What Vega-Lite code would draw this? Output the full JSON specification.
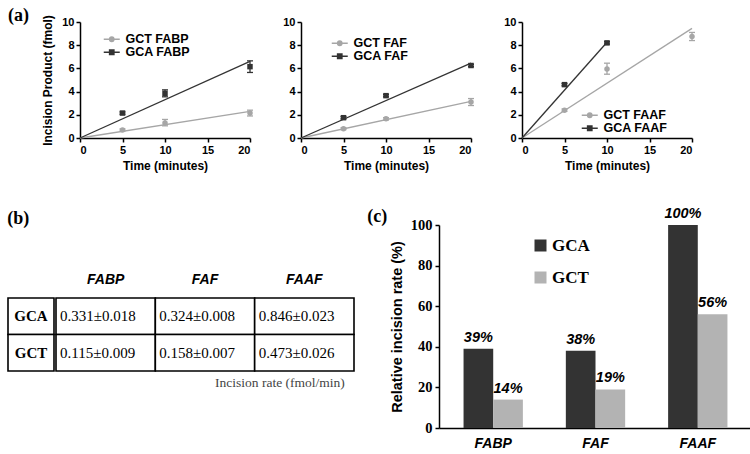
{
  "$schema": "https://vega.github.io/schema/vega-lite/v6.json",
  "padding": {"left": 7, "top": 7, "right": 0, "bottom": 0},
  "background": "#ffffff",
  "config": {
    "view": {"stroke": null},
    "font": "Liberation Sans",
    "axis": {"grid": false, "labelOverlap": false, "domainColor": "#000000", "domainWidth": 1.5, "tickColor": "#000000", "tickWidth": 1.5, "tickSize": 4, "labelFont": "Liberation Sans", "labelFontWeight": "bold", "labelColor": "#000000", "titleFont": "Liberation Sans", "titleFontWeight": "bold", "titleColor": "#000000"},
    "title": {"font": "Liberation Serif", "fontWeight": "bold", "fontSize": 18, "color": "#000000"}
  },
  "datasets": {
    "pts": [
      {"substrate": "FABP", "series": "GCT FABP", "seq": "GCT", "time": 5, "mean": 0.69, "lo": 0.6, "hi": 0.78},
      {"substrate": "FABP", "series": "GCT FABP", "seq": "GCT", "time": 10, "mean": 1.3, "lo": 1.05, "hi": 1.6},
      {"substrate": "FABP", "series": "GCT FABP", "seq": "GCT", "time": 20, "mean": 2.15, "lo": 1.9, "hi": 2.4},
      {"substrate": "FABP", "series": "GCA FABP", "seq": "GCA", "time": 5, "mean": 2.15, "lo": 2.05, "hi": 2.25},
      {"substrate": "FABP", "series": "GCA FABP", "seq": "GCA", "time": 10, "mean": 3.85, "lo": 3.55, "hi": 4.15},
      {"substrate": "FABP", "series": "GCA FABP", "seq": "GCA", "time": 20, "mean": 6.15, "lo": 5.65, "hi": 6.65},
      {"substrate": "FAF", "series": "GCT FAF", "seq": "GCT", "time": 5, "mean": 0.8, "lo": 0.72, "hi": 0.88},
      {"substrate": "FAF", "series": "GCT FAF", "seq": "GCT", "time": 10, "mean": 1.65, "lo": 1.55, "hi": 1.75},
      {"substrate": "FAF", "series": "GCT FAF", "seq": "GCT", "time": 20, "mean": 3.1, "lo": 2.8, "hi": 3.4},
      {"substrate": "FAF", "series": "GCA FAF", "seq": "GCA", "time": 5, "mean": 1.75, "lo": 1.65, "hi": 1.85},
      {"substrate": "FAF", "series": "GCA FAF", "seq": "GCA", "time": 10, "mean": 3.65, "lo": 3.55, "hi": 3.75},
      {"substrate": "FAF", "series": "GCA FAF", "seq": "GCA", "time": 20, "mean": 6.25, "lo": 6.15, "hi": 6.35},
      {"substrate": "FAAF", "series": "GCT FAAF", "seq": "GCT", "time": 5, "mean": 2.4, "lo": 2.3, "hi": 2.5},
      {"substrate": "FAAF", "series": "GCT FAAF", "seq": "GCT", "time": 10, "mean": 5.95, "lo": 5.5, "hi": 6.45},
      {"substrate": "FAAF", "series": "GCT FAAF", "seq": "GCT", "time": 20, "mean": 8.75, "lo": 8.4, "hi": 9.1},
      {"substrate": "FAAF", "series": "GCA FAAF", "seq": "GCA", "time": 5, "mean": 4.6, "lo": 4.5, "hi": 4.7},
      {"substrate": "FAAF", "series": "GCA FAAF", "seq": "GCA", "time": 10, "mean": 8.2, "lo": 8.1, "hi": 8.3}
    ],
    "fit": [
      {"substrate": "FABP", "series": "GCT FABP", "time": 0, "amount": 0},
      {"substrate": "FABP", "series": "GCT FABP", "time": 20, "amount": 2.3},
      {"substrate": "FABP", "series": "GCA FABP", "time": 0, "amount": 0},
      {"substrate": "FABP", "series": "GCA FABP", "time": 20, "amount": 6.6},
      {"substrate": "FAF", "series": "GCT FAF", "time": 0, "amount": 0},
      {"substrate": "FAF", "series": "GCT FAF", "time": 20, "amount": 3.15},
      {"substrate": "FAF", "series": "GCA FAF", "time": 0, "amount": 0},
      {"substrate": "FAF", "series": "GCA FAF", "time": 20, "amount": 6.45},
      {"substrate": "FAAF", "series": "GCT FAAF", "time": 0, "amount": 0},
      {"substrate": "FAAF", "series": "GCT FAAF", "time": 20, "amount": 9.45},
      {"substrate": "FAAF", "series": "GCA FAAF", "time": 0, "amount": 0},
      {"substrate": "FAAF", "series": "GCA FAAF", "time": 10, "amount": 8.25}
    ],
    "cells": [
      {"row": "GCA", "col": "FABP", "val": "0.331±0.018"},
      {"row": "GCA", "col": "FAF", "val": "0.324±0.008"},
      {"row": "GCA", "col": "FAAF", "val": "0.846±0.023"},
      {"row": "GCT", "col": "FABP", "val": "0.115±0.009"},
      {"row": "GCT", "col": "FAF", "val": "0.158±0.007"},
      {"row": "GCT", "col": "FAAF", "val": "0.473±0.026"}
    ],
    "bars": [
      {"substrate": "FABP", "seq": "GCA", "value": 39, "pct": "39%"},
      {"substrate": "FABP", "seq": "GCT", "value": 14, "pct": "14%"},
      {"substrate": "FAF", "seq": "GCA", "value": 38, "pct": "38%"},
      {"substrate": "FAF", "seq": "GCT", "value": 19, "pct": "19%"},
      {"substrate": "FAAF", "seq": "GCA", "value": 100, "pct": "100%"},
      {"substrate": "FAAF", "seq": "GCT", "value": 56, "pct": "56%"}
    ]
  },
  "columns": 1,
  "align": "none",
  "spacing": 35,
  "resolve": {"scale": {"x": "independent", "y": "independent", "color": "independent", "shape": "independent", "xOffset": "independent"}, "legend": {"color": "independent", "shape": "independent"}},
  "concat": [
    {
      "spacing": 12,
      "resolve": {"scale": {"x": "independent", "y": "independent", "color": "independent", "shape": "independent"}, "legend": {"color": "independent", "shape": "independent"}},
      "hconcat": [
        {
          "width": 20, "height": 116,
          "title": {"text": "(a)", "anchor": "start", "offset": -3},
          "data": {"values": [{"label": ""}]},
          "mark": {"type": "text"},
          "encoding": {"text": {"field": "label"}}
        },
        {
          "spacing": 29,
          "resolve": {"scale": {"x": "independent", "y": "independent", "color": "independent", "shape": "independent"}, "legend": {"color": "independent", "shape": "independent"}},
          "hconcat": [
            {
              "width": 170, "height": 116,
              "layer": [
                {"data": {"name": "fit"}, "transform": [{"filter": "datum.substrate == 'FABP'"}],
                 "mark": {"type": "line", "strokeWidth": 1.3},
                 "encoding": {
                   "x": {"field": "time", "type": "quantitative", "title": "Time (minutes)", "scale": {"domain": [0, 20], "nice": false}, "axis": {"values": [0, 5, 10, 15, 20], "titleFontSize": 12, "labelFontSize": 11, "titlePadding": 5, "labelPadding": 2}},
                   "y": {"field": "amount", "type": "quantitative", "title": "Incision Product (fmol)", "scale": {"domain": [0, 10], "nice": false}, "axis": {"values": [0, 2, 4, 6, 8, 10], "titleFontSize": 12, "labelFontSize": 11, "titlePadding": 7, "labelPadding": 2}},
                   "color": {"field": "series", "type": "nominal", "scale": {"domain": ["GCT FABP", "GCA FABP"], "range": ["#a6a6a6", "#333333"]},
                     "legend": {"title": null, "orient": "none", "legendX": 25.5, "legendY": 11, "padding": 0, "labelFont": "Liberation Sans", "labelFontWeight": "bold", "labelFontSize": 12.5, "labelColor": "#000000", "symbolSize": 100, "labelOffset": 7.5, "rowPadding": 0,
                       "encode": {"symbols": {"update": {
                         "shape": {"signal": "indexof(datum.label, 'GCT') == 0 ? 'M-1.6,0H1.6M-0.45,0A0.45,0.45,0,1,1,0.45,0A0.45,0.45,0,1,1,-0.45,0Z' : 'M-1.6,0H1.6M-0.45,-0.45H0.45V0.45H-0.45Z'"},
                         "fill": {"signal": "indexof(datum.label, 'GCT') == 0 ? '#a6a6a6' : '#333333'"},
                         "stroke": {"signal": "indexof(datum.label, 'GCT') == 0 ? '#a6a6a6' : '#333333'"},
                         "strokeWidth": {"value": 1.3}, "opacity": {"value": 1}, "fillOpacity": {"value": 1}}}}}}
                 }},
                {"data": {"name": "pts"}, "transform": [{"filter": "datum.substrate == 'FABP'"}],
                 "mark": {"type": "rule", "strokeWidth": 1.3},
                 "encoding": {"x": {"field": "time", "type": "quantitative", "title": "Time (minutes)"}, "y": {"field": "lo", "type": "quantitative", "title": "Incision Product (fmol)", "axis": {"values": [0, 2, 4, 6, 8, 10], "titleFontSize": 12, "labelFontSize": 11, "titlePadding": 7, "labelPadding": 2}}, "y2": {"field": "hi"}, "color": {"field": "series", "type": "nominal"}}},
                {"data": {"name": "pts"}, "transform": [{"filter": "datum.substrate == 'FABP'"}],
                 "mark": {"type": "tick", "orient": "horizontal", "size": 6, "thickness": 1.3, "opacity": 1},
                 "encoding": {"x": {"field": "time", "type": "quantitative", "title": "Time (minutes)"}, "y": {"field": "lo", "type": "quantitative", "title": "Incision Product (fmol)", "axis": {"values": [0, 2, 4, 6, 8, 10], "titleFontSize": 12, "labelFontSize": 11, "titlePadding": 7, "labelPadding": 2}}, "color": {"field": "series", "type": "nominal"}}},
                {"data": {"name": "pts"}, "transform": [{"filter": "datum.substrate == 'FABP'"}],
                 "mark": {"type": "tick", "orient": "horizontal", "size": 6, "thickness": 1.3, "opacity": 1},
                 "encoding": {"x": {"field": "time", "type": "quantitative", "title": "Time (minutes)"}, "y": {"field": "hi", "type": "quantitative", "title": "Incision Product (fmol)", "axis": {"values": [0, 2, 4, 6, 8, 10], "titleFontSize": 12, "labelFontSize": 11, "titlePadding": 7, "labelPadding": 2}}, "color": {"field": "series", "type": "nominal"}}},
                {"data": {"name": "pts"}, "transform": [{"filter": "datum.substrate == 'FABP'"}],
                 "mark": {"type": "point", "filled": true, "opacity": 1, "size": 30},
                 "encoding": {"x": {"field": "time", "type": "quantitative", "title": "Time (minutes)"}, "y": {"field": "mean", "type": "quantitative", "title": "Incision Product (fmol)", "axis": {"values": [0, 2, 4, 6, 8, 10], "titleFontSize": 12, "labelFontSize": 11, "titlePadding": 7, "labelPadding": 2}}, "color": {"field": "series", "type": "nominal"},
                   "shape": {"field": "seq", "type": "nominal", "scale": {"domain": ["GCT", "GCA"], "range": ["circle", "square"]}, "legend": null}}}
              ]
            },
            {
              "width": 170, "height": 116,
              "layer": [
                {"data": {"name": "fit"}, "transform": [{"filter": "datum.substrate == 'FAF'"}],
                 "mark": {"type": "line", "strokeWidth": 1.3},
                 "encoding": {
                   "x": {"field": "time", "type": "quantitative", "title": "Time (minutes)", "scale": {"domain": [0, 20], "nice": false}, "axis": {"values": [0, 5, 10, 15, 20], "titleFontSize": 12, "labelFontSize": 11, "titlePadding": 5, "labelPadding": 2}},
                   "y": {"field": "amount", "type": "quantitative", "title": null, "scale": {"domain": [0, 10], "nice": false}, "axis": {"values": [0, 2, 4, 6, 8, 10], "labelFontSize": 11, "labelPadding": 2}},
                   "color": {"field": "series", "type": "nominal", "scale": {"domain": ["GCT FAF", "GCA FAF"], "range": ["#a6a6a6", "#333333"]},
                     "legend": {"title": null, "orient": "none", "legendX": 32.5, "legendY": 15, "padding": 0, "labelFont": "Liberation Sans", "labelFontWeight": "bold", "labelFontSize": 12.5, "labelColor": "#000000", "symbolSize": 100, "labelOffset": 7.5, "rowPadding": -2,
                       "encode": {"symbols": {"update": {
                         "shape": {"signal": "indexof(datum.label, 'GCT') == 0 ? 'M-1.6,0H1.6M-0.45,0A0.45,0.45,0,1,1,0.45,0A0.45,0.45,0,1,1,-0.45,0Z' : 'M-1.6,0H1.6M-0.45,-0.45H0.45V0.45H-0.45Z'"},
                         "fill": {"signal": "indexof(datum.label, 'GCT') == 0 ? '#a6a6a6' : '#333333'"},
                         "stroke": {"signal": "indexof(datum.label, 'GCT') == 0 ? '#a6a6a6' : '#333333'"},
                         "strokeWidth": {"value": 1.3}, "opacity": {"value": 1}, "fillOpacity": {"value": 1}}}}}}
                 }},
                {"data": {"name": "pts"}, "transform": [{"filter": "datum.substrate == 'FAF'"}],
                 "mark": {"type": "rule", "strokeWidth": 1.3},
                 "encoding": {"x": {"field": "time", "type": "quantitative", "title": "Time (minutes)"}, "y": {"field": "lo", "type": "quantitative", "title": null, "axis": {"values": [0, 2, 4, 6, 8, 10], "labelFontSize": 11, "labelPadding": 2}}, "y2": {"field": "hi"}, "color": {"field": "series", "type": "nominal"}}},
                {"data": {"name": "pts"}, "transform": [{"filter": "datum.substrate == 'FAF'"}],
                 "mark": {"type": "tick", "orient": "horizontal", "size": 6, "thickness": 1.3, "opacity": 1},
                 "encoding": {"x": {"field": "time", "type": "quantitative", "title": "Time (minutes)"}, "y": {"field": "lo", "type": "quantitative", "title": null, "axis": {"values": [0, 2, 4, 6, 8, 10], "labelFontSize": 11, "labelPadding": 2}}, "color": {"field": "series", "type": "nominal"}}},
                {"data": {"name": "pts"}, "transform": [{"filter": "datum.substrate == 'FAF'"}],
                 "mark": {"type": "tick", "orient": "horizontal", "size": 6, "thickness": 1.3, "opacity": 1},
                 "encoding": {"x": {"field": "time", "type": "quantitative", "title": "Time (minutes)"}, "y": {"field": "hi", "type": "quantitative", "title": null, "axis": {"values": [0, 2, 4, 6, 8, 10], "labelFontSize": 11, "labelPadding": 2}}, "color": {"field": "series", "type": "nominal"}}},
                {"data": {"name": "pts"}, "transform": [{"filter": "datum.substrate == 'FAF'"}],
                 "mark": {"type": "point", "filled": true, "opacity": 1, "size": 30},
                 "encoding": {"x": {"field": "time", "type": "quantitative", "title": "Time (minutes)"}, "y": {"field": "mean", "type": "quantitative", "title": null, "axis": {"values": [0, 2, 4, 6, 8, 10], "labelFontSize": 11, "labelPadding": 2}}, "color": {"field": "series", "type": "nominal"},
                   "shape": {"field": "seq", "type": "nominal", "scale": {"domain": ["GCT", "GCA"], "range": ["circle", "square"]}, "legend": null}}}
              ]
            },
            {
              "width": 170, "height": 116,
              "layer": [
                {"data": {"name": "fit"}, "transform": [{"filter": "datum.substrate == 'FAAF'"}],
                 "mark": {"type": "line", "strokeWidth": 1.3},
                 "encoding": {
                   "x": {"field": "time", "type": "quantitative", "title": "Time (minutes)", "scale": {"domain": [0, 20], "nice": false}, "axis": {"values": [0, 5, 10, 15, 20], "titleFontSize": 12, "labelFontSize": 11, "titlePadding": 5, "labelPadding": 2}},
                   "y": {"field": "amount", "type": "quantitative", "title": null, "scale": {"domain": [0, 10], "nice": false}, "axis": {"values": [0, 2, 4, 6, 8, 10], "labelFontSize": 11, "labelPadding": 2}},
                   "color": {"field": "series", "type": "nominal", "scale": {"domain": ["GCT FAAF", "GCA FAAF"], "range": ["#a6a6a6", "#333333"]},
                     "legend": {"title": null, "orient": "none", "legendX": 61.5, "legendY": 87, "padding": 0, "labelFont": "Liberation Sans", "labelFontWeight": "bold", "labelFontSize": 12.5, "labelColor": "#000000", "symbolSize": 100, "labelOffset": 7.5, "rowPadding": -1,
                       "encode": {"symbols": {"update": {
                         "shape": {"signal": "indexof(datum.label, 'GCT') == 0 ? 'M-1.6,0H1.6M-0.45,0A0.45,0.45,0,1,1,0.45,0A0.45,0.45,0,1,1,-0.45,0Z' : 'M-1.6,0H1.6M-0.45,-0.45H0.45V0.45H-0.45Z'"},
                         "fill": {"signal": "indexof(datum.label, 'GCT') == 0 ? '#a6a6a6' : '#333333'"},
                         "stroke": {"signal": "indexof(datum.label, 'GCT') == 0 ? '#a6a6a6' : '#333333'"},
                         "strokeWidth": {"value": 1.3}, "opacity": {"value": 1}, "fillOpacity": {"value": 1}}}}}}
                 }},
                {"data": {"name": "pts"}, "transform": [{"filter": "datum.substrate == 'FAAF'"}],
                 "mark": {"type": "rule", "strokeWidth": 1.3},
                 "encoding": {"x": {"field": "time", "type": "quantitative", "title": "Time (minutes)"}, "y": {"field": "lo", "type": "quantitative", "title": null, "axis": {"values": [0, 2, 4, 6, 8, 10], "labelFontSize": 11, "labelPadding": 2}}, "y2": {"field": "hi"}, "color": {"field": "series", "type": "nominal"}}},
                {"data": {"name": "pts"}, "transform": [{"filter": "datum.substrate == 'FAAF'"}],
                 "mark": {"type": "tick", "orient": "horizontal", "size": 6, "thickness": 1.3, "opacity": 1},
                 "encoding": {"x": {"field": "time", "type": "quantitative", "title": "Time (minutes)"}, "y": {"field": "lo", "type": "quantitative", "title": null, "axis": {"values": [0, 2, 4, 6, 8, 10], "labelFontSize": 11, "labelPadding": 2}}, "color": {"field": "series", "type": "nominal"}}},
                {"data": {"name": "pts"}, "transform": [{"filter": "datum.substrate == 'FAAF'"}],
                 "mark": {"type": "tick", "orient": "horizontal", "size": 6, "thickness": 1.3, "opacity": 1},
                 "encoding": {"x": {"field": "time", "type": "quantitative", "title": "Time (minutes)"}, "y": {"field": "hi", "type": "quantitative", "title": null, "axis": {"values": [0, 2, 4, 6, 8, 10], "labelFontSize": 11, "labelPadding": 2}}, "color": {"field": "series", "type": "nominal"}}},
                {"data": {"name": "pts"}, "transform": [{"filter": "datum.substrate == 'FAAF'"}],
                 "mark": {"type": "point", "filled": true, "opacity": 1, "size": 30},
                 "encoding": {"x": {"field": "time", "type": "quantitative", "title": "Time (minutes)"}, "y": {"field": "mean", "type": "quantitative", "title": null, "axis": {"values": [0, 2, 4, 6, 8, 10], "labelFontSize": 11, "labelPadding": 2}}, "color": {"field": "series", "type": "nominal"},
                   "shape": {"field": "seq", "type": "nominal", "scale": {"domain": ["GCT", "GCA"], "range": ["circle", "square"]}, "legend": null}}}
              ]
            }
          ]
        }
      ]
    },
    {
      "spacing": 12,
      "resolve": {"scale": {"x": "independent", "y": "independent", "color": "independent", "xOffset": "independent"}, "legend": {"color": "independent"}},
      "hconcat": [
        {
          "title": {"text": "(b)", "orient": "top", "anchor": "start", "offset": -3},
          "spacing": 0,
          "hconcat": [
            {
              "width": 46, "height": 146,
              "data": {"name": "cells"},
              "transform": [{"filter": "datum.col == 'FABP'"}],
              "encoding": {"y": {"field": "row", "type": "nominal", "scale": {"domain": ["pad", "h", "GCA", "GCT"], "paddingInner": 0, "paddingOuter": 0}, "axis": null}},
              "layer": [
                {"mark": {"type": "rect", "fill": "#ffffff", "stroke": "#000000", "strokeWidth": 1.6}},
                {"mark": {"type": "text", "font": "Liberation Serif", "fontWeight": "bold", "fontSize": 15, "color": "#000000"}, "encoding": {"text": {"field": "row"}}}
              ]
            },
            {
              "width": 298, "height": 146,
              "data": {"name": "cells"},
              "title": {"text": "Incision rate (fmol/min)", "orient": "bottom", "anchor": "end", "font": "Liberation Serif", "fontWeight": "normal", "fontSize": 13.5, "color": "#444444", "offset": 4, "dx": -10},
              "encoding": {
                "x": {"field": "col", "type": "nominal", "sort": ["FABP", "FAF", "FAAF"], "scale": {"paddingInner": 0, "paddingOuter": 0}, "axis": null},
                "y": {"field": "row", "type": "nominal", "scale": {"domain": ["pad", "h", "GCA", "GCT"], "paddingInner": 0, "paddingOuter": 0}, "axis": null}
              },
              "layer": [
                {"mark": {"type": "rect", "fill": "#ffffff", "stroke": "#000000", "strokeWidth": 1.6}},
                {"mark": {"type": "text", "align": "left", "dx": 4, "font": "Liberation Serif", "fontSize": 15, "color": "#000000"},
                 "encoding": {"x": {"field": "col", "type": "nominal", "sort": ["FABP", "FAF", "FAAF"], "bandPosition": 0}, "text": {"field": "val"}}},
                {"transform": [{"filter": "datum.row == 'GCA'"}],
                 "mark": {"type": "text", "font": "Liberation Sans", "fontWeight": "bold", "fontStyle": "italic", "fontSize": 14, "color": "#000000"},
                 "encoding": {"y": {"datum": "h"}, "text": {"field": "col"}}}
              ]
            }
          ]
        },
        {
          "width": 313, "height": 203,
          "title": {"text": "(c)", "orient": "left", "anchor": "end", "angle": 0, "align": "right", "baseline": "top", "offset": -18, "dy": 2},
          "data": {"name": "bars"},
          "encoding": {
            "x": {"field": "substrate", "type": "nominal", "sort": ["FABP", "FAF", "FAAF"], "scale": {"paddingInner": 0.42, "paddingOuter": 0.24}, "axis": {"title": null, "labelAngle": 0, "ticks": false, "labelFontStyle": "italic", "labelFontSize": 14, "labelPadding": 8}},
            "xOffset": {"field": "seq", "type": "nominal", "sort": ["GCA", "GCT"]},
            "y": {"field": "value", "type": "quantitative", "title": "Relative incision rate (%)", "scale": {"domain": [0, 100], "nice": false}, "axis": {"values": [0, 20, 40, 60, 80, 100], "labelFont": "Liberation Serif", "labelFontSize": 14.5, "titleFontSize": 14.5, "titlePadding": 6, "labelPadding": 3}}
          },
          "layer": [
            {"mark": {"type": "bar"},
             "encoding": {"color": {"field": "seq", "type": "nominal", "scale": {"domain": ["GCA", "GCT"], "range": ["#333333", "#b3b3b3"]},
               "legend": {"title": null, "orient": "none", "legendX": 93, "legendY": 12, "padding": 0, "symbolType": "square", "symbolSize": 144, "symbolStrokeWidth": 0, "labelFont": "Liberation Serif", "labelFontWeight": "bold", "labelFontSize": 17, "labelColor": "#000000", "rowPadding": 14, "labelOffset": 3}}}},
            {"mark": {"type": "text", "dy": -11, "font": "Liberation Sans", "fontStyle": "italic", "fontWeight": "bold", "fontSize": 14.5, "color": "#000000"},
             "encoding": {"text": {"field": "pct"}}}
          ]
        }
      ]
    }
  ]
}
